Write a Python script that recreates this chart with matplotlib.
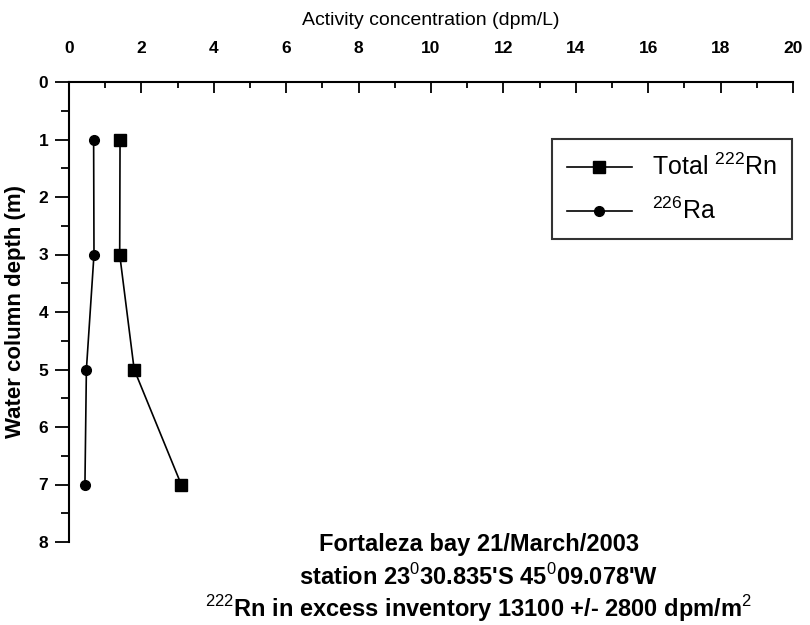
import matplotlib
matplotlib.use('Agg')
import matplotlib.pyplot as plt
from matplotlib.ticker import MultipleLocator

plt.rcParams['font.family'] = ['Liberation Sans', 'DejaVu Sans']
plt.rcParams['mathtext.fontset'] = 'custom'
plt.rcParams['mathtext.rm'] = 'Liberation Sans'
plt.rcParams['mathtext.bf'] = 'Liberation Sans:bold'

# depth (m) and activity concentration (dpm/L)
depth = [1, 3, 5, 7]
rn_total = [1.41, 1.40, 1.80, 3.10]
ra_226 = [0.68, 0.69, 0.48, 0.44]

notes = [
    'Fortaleza bay 21/March/2003',
    "station 23$^0$30.835'S 45$^0$09.078'W",
    '$^{222}$Rn in excess inventory 13100 +/- 2800 dpm/m$^2$',
]

fig = plt.figure(figsize=(8.1, 6.25), dpi=100)
ax = fig.add_axes([0.0852, 0.1328, 0.8938, 0.736])

ax.plot(rn_total, depth, '-', color='black', lw=1.2, marker='s', ms=8,
        label='Total $^{222}$Rn')
ax.plot(ra_226, depth, '-', color='black', lw=1.2, marker='o', ms=7,
        label='$^{226}$Ra')

ax.set_xlim(0, 20)
ax.set_ylim(8, 0)
ax.xaxis.set_major_locator(MultipleLocator(2))
ax.xaxis.set_minor_locator(MultipleLocator(1))
ax.yaxis.set_major_locator(MultipleLocator(1))
ax.yaxis.set_minor_locator(MultipleLocator(0.5))
ax.xaxis.tick_top()
ax.xaxis.set_label_position('top')
ax.spines['right'].set_visible(False)
ax.spines['bottom'].set_visible(False)
for s in ('left', 'top'):
    ax.spines[s].set_linewidth(1.5)
ax.tick_params(axis='x', which='both', direction='in', width=1.3,
               labelsize=12.5, pad=19)
ax.tick_params(axis='x', which='major', length=8)
ax.tick_params(axis='x', which='minor', length=4)
ax.tick_params(axis='y', which='both', direction='out', width=1.3,
               labelsize=12.5, pad=5)
ax.tick_params(axis='y', which='major', length=10)
ax.tick_params(axis='y', which='minor', length=6)
for lab in ax.get_xticklabels() + ax.get_yticklabels():
    lab.set_fontweight('bold')

ax.set_xlabel('Activity concentration (dpm/L)', fontsize=14, labelpad=11)
ax.set_ylabel('Water column depth (m)', fontsize=16, fontweight='bold',
              labelpad=9)

leg = ax.legend(loc='upper right', bbox_to_anchor=(0.9986, 0.876),
                fontsize=18, frameon=True, fancybox=False, handlelength=2.6,
                borderpad=0.6, labelspacing=0.7, borderaxespad=0)
leg.get_frame().set_edgecolor('black')
leg.get_frame().set_linewidth(1.5)

for i, t in enumerate(notes):
    fig.text(0.591, 0.128 - i * 0.0512, t, ha='center', va='center',
             fontsize=17, fontweight='bold')

fig.savefig('out.png', dpi=100)
